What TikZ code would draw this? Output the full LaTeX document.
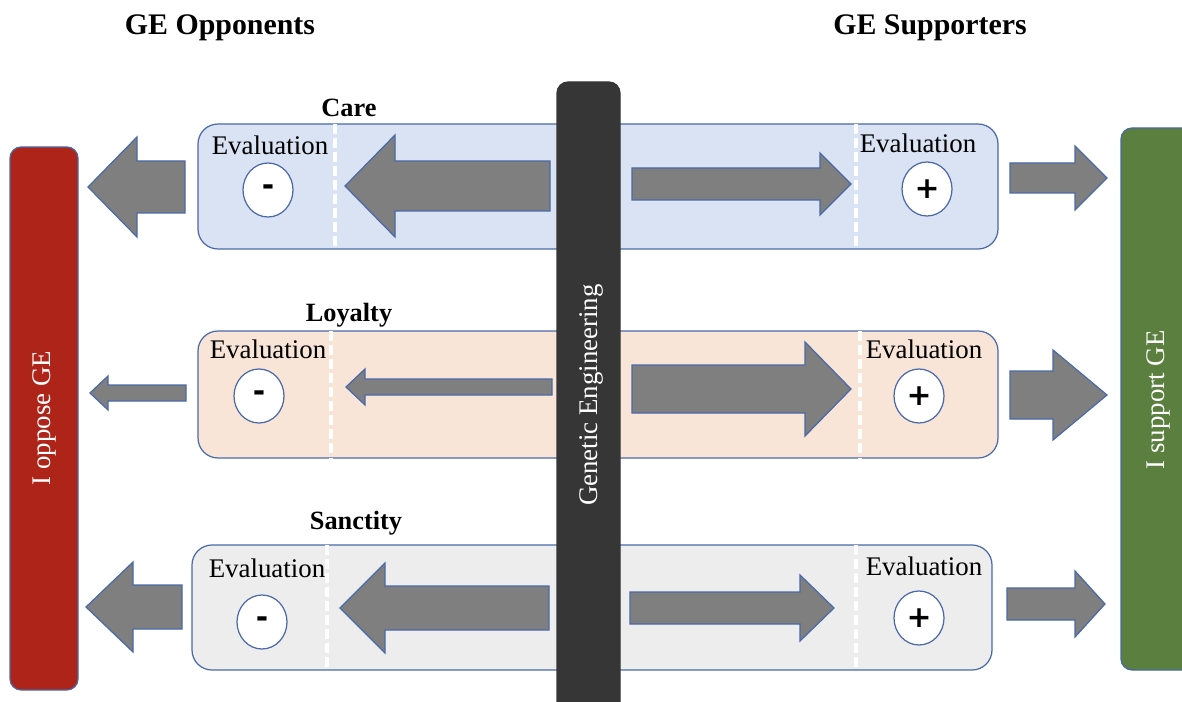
\documentclass[tikz,border=0pt]{standalone}
\usepackage{fontspec}
\setmainfont{Liberation Serif}
\newfontfamily\signfont{DejaVu Sans}
\usetikzlibrary{shapes.geometric}

\definecolor{careblue}{HTML}{DAE3F3}
\definecolor{loyalpeach}{HTML}{F8E5D8}
\definecolor{sanctgray}{HTML}{EDEDED}
\definecolor{edgeblue}{HTML}{4A69A8}
\definecolor{arrowgray}{HTML}{7F7F7F}
\definecolor{opposered}{HTML}{AE2419}
\definecolor{supportgreen}{HTML}{5B7F3E}
\definecolor{gedark}{HTML}{373636}

\tikzset{
    rowbox/.style={draw=edgeblue, line width=0.7pt, rounded corners=0.4cm},
    divider/.style={draw=white, line width=2pt, dash pattern=on 5.5pt off 2.5pt},
    blockarrow/.style={draw=edgeblue, fill=arrowgray, line width=0.7pt},
    sidebar/.style={draw=edgeblue, line width=0.7pt, rounded corners=0.22cm},
    evallabel/.style={font=\fontsize{15.3}{18}\selectfont, inner sep=0pt},
    evalsign/.style={ellipse, draw=edgeblue, fill=white, line width=0.7pt,
        inner sep=0pt, minimum width=1.0cm, minimum height=1.08cm,
        font=\signfont\fontsize{17}{18}\selectfont\bfseries},
    rowtitle/.style={font=\fontsize{15}{18}\selectfont\bfseries, inner sep=0pt},
    sidetitle/.style={font=\fontsize{17}{20}\selectfont\bfseries, inner sep=0pt},
    bartext/.style={rotate=90, text=white, font=\fontsize{15.3}{18}\selectfont,
        inner sep=0pt},
}

\begin{document}
\begin{tikzpicture}[x=0.02cm, y=-0.02cm]
    \useasboundingbox (0, 0) rectangle (1182, 702);

    \node[sidetitle] (opponents) at (220, 28) {GE Opponents};
    \node[sidetitle] (supporters) at (930, 28) {GE Supporters};

    \foreach \name/\x/\y/\h/\col/\dl/\dr in {
        care/198/124/125/careblue/335/856,
        loyalty/198/331/127/loyalpeach/331/860,
        sanctity/192/545/125/sanctgray/327/856} {

        \draw[rowbox, fill=\col] (\x, \y) rectangle ++(800, \h);
        \draw[divider] (\dl, \y) -- ++(0, \h);
        \draw[divider] (\dr, \y) -- ++(0, \h);
    }

    \node[rowtitle] (care) at (349, 108) {Care};
    \node[rowtitle] (loyalty) at (349, 315) {Loyalty};
    \node[rowtitle] (sanctity) at (356, 523) {Sanctity};

    \foreach \tl/\tp/\hb/\cy/\sh/\hh in {
        550/345/395/186/25/51, 632/851/820/184/16/31,
        185/88/137/187/26/50, 1010/1107/1075/178/15/32,
        552/346/365/387/8/18, 632/851/805/389/24/47,
        186/90/108/393/8/17, 1010/1107/1053/395/24/45,
        549/340/385/608/22/45, 630/834/800/608/16/33,
        182/86/133/607/22/45, 1007/1105/1075/604/16/33}
    \draw[blockarrow] (\tl, \cy - \sh) -- (\hb, \cy - \sh) -- (\hb, \cy - \hh)
        -- (\tp, \cy) -- (\hb, \cy + \hh) -- (\hb, \cy + \sh)
        -- (\tl, \cy + \sh) -- cycle;

    \node[evallabel] (careevall) at (270, 145) {Evaluation};
    \node[evallabel] (careevalr) at (918, 143) {Evaluation};
    \node[evalsign] (careminus) at (268, 190) {-};
    \node[evalsign] (careplus) at (927, 189) {+};

    \node[evallabel] (loyaltyevall) at (268, 349) {Evaluation};
    \node[evallabel] (loyaltyevalr) at (924, 349) {Evaluation};
    \node[evalsign] (loyaltyminus) at (259, 396) {-};
    \node[evalsign] (loyaltyplus) at (919, 396) {+};

    \node[evallabel] (sanctityevall) at (267, 568) {Evaluation};
    \node[evallabel] (sanctityevalr) at (924, 566) {Evaluation};
    \node[evalsign] (sanctityminus) at (262, 622) {-};
    \node[evalsign] (sanctityplus) at (919, 618) {+};

    \draw[sidebar, fill=opposered] (10, 147) rectangle (78, 690);
    \node[bartext] (oppose) at (44, 418) {I oppose GE};

    \draw[sidebar, fill=supportgreen] (1121, 128) rectangle (1196, 670);
    \node[bartext] (support) at (1158, 400) {I support GE};

    \draw[sidebar, draw=gedark, fill=gedark] (557, 82) rectangle (620, 720);
    \node[bartext] (genetic) at (591, 395) {Genetic Engineering};
\end{tikzpicture}
\end{document}
